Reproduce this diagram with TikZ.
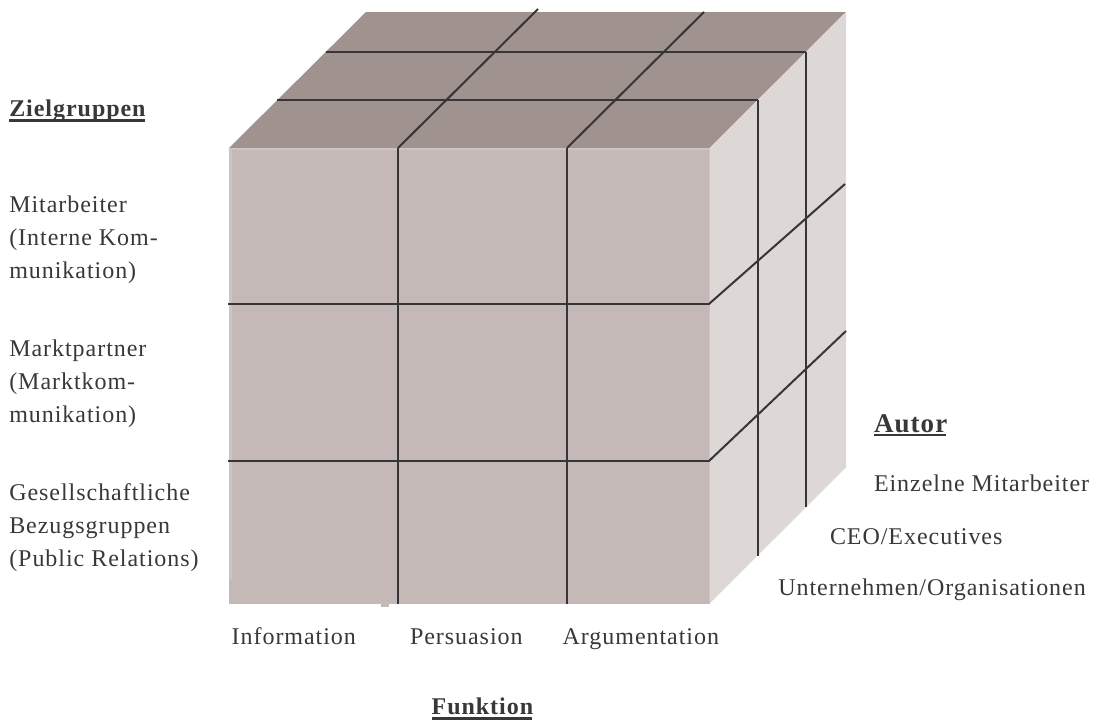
\documentclass[tikz,border=0pt]{standalone}
\usepackage{fontspec}
\setmainfont{Liberation Serif}[LetterSpace=4]
\definecolor{topc}{HTML}{A0928E}
\definecolor{frontc}{HTML}{C4B9B6}
\definecolor{frontedge}{HTML}{CCC4C1}
\definecolor{sidec}{HTML}{DDD8D5}
\definecolor{gridc}{HTML}{363538}
\definecolor{txt}{HTML}{38373A}
\begin{document}
\begin{tikzpicture}[x=1pt,y=-1pt,
  lbl/.style={anchor=base west, inner sep=0pt, outer sep=0pt, text=txt,
    font=\fontsize{24}{30}\selectfont},
  head/.style={lbl, font=\fontsize{24}{30}\selectfont\bfseries},
  bighead/.style={lbl, font=\fontsize{27}{32}\selectfont\bfseries},
  ul/.style={draw=txt, line width=2.7pt},
  gridline/.style={draw=gridc, line width=2pt},
]
\useasboundingbox (0,0) rectangle (1104,720);

% cube corners
\coordinate (FTL) at (229,148);
\coordinate (FTR) at (709.5,148);
\coordinate (FBL) at (229,603.5);
\coordinate (FBR) at (709.5,603.5);
\coordinate (BTL) at (366,12);
\coordinate (BTR) at (846,12);
\coordinate (BBR) at (846,467.5);

% faces
\fill[topc] (FTL) -- (BTL) -- (BTR) -- (FTR) -- cycle;
\fill[frontc] (FTL) rectangle (FBR);
\fill[frontedge] (229,148) rectangle (231.5,580);
\fill[frontedge] (229,149.5) rectangle (709.5,148);
\fill[frontc] (381,603) rectangle (389,606.5);
\fill[sidec] (FTR) -- (BTR) -- (BBR) -- (FBR) -- cycle;

% front grid
\draw[gridline] (228,303.5) -- (709.5,303.5);
\draw[gridline] (228,460.5) -- (709.5,460.5);
\draw[gridline] (398,148) -- (398,603.5);
\draw[gridline] (567,148) -- (567,603.5);

% top grid
\draw[gridline] (277.3,100) -- (757.8,100);
\draw[gridline] (325.6,51.7) -- (806.1,51.7);
\draw[gridline] (398,148) -- (538,9);
\draw[gridline] (567,148) -- (704,12);

% side grid
\draw[gridline] (757.8,100) -- (757.8,555.5);
\draw[gridline] (806.1,51.7) -- (806.1,507.2);
\draw[gridline] (709.5,303.5) -- (845,184);
\draw[gridline] (709.5,460.5) -- (846,331);

% Zielgruppen
\node[head] (zg) at (9.3,116.7) {Zielgruppen};
\draw[ul] ([yshift=-4pt]zg.base west) -- ([yshift=-4pt,xshift=-1pt]zg.base east);
\node[lbl] (ma1) at (9.3,212) {Mitarbeiter};
\node[lbl] (ma2) at (9.3,245) {(Interne Kom-};
\node[lbl] (ma3) at (9.3,278) {munikation)};
\node[lbl] (mp1) at (9.3,356.5) {Marktpartner};
\node[lbl] (mp2) at (9.3,389.5) {(Marktkom-};
\node[lbl] (mp3) at (9.3,422.5) {munikation)};
\node[lbl] (gb1) at (9.3,500) {Gesellschaftliche};
\node[lbl] (gb2) at (9.3,533) {Bezugsgruppen};
\node[lbl] (gb3) at (9.3,566) {(Public Relations)};

% Autor
\node[bighead] (au) at (874,432) {Autor};
\draw[ul] ([yshift=-3pt]au.base west) -- ([yshift=-3pt,xshift=-1pt]au.base east);
\node[lbl] (au1) at (874,491) {Einzelne Mitarbeiter};
\node[lbl] (au2) at (830,544.3) {CEO/Executives};
\node[lbl] (au3) at (778.3,595) {Unternehmen/Organisationen};

% Funktion
\node[lbl] (fk1) at (231.7,644) {Information};
\node[lbl] (fk2) at (410,644) {Persuasion};
\node[lbl] (fk3) at (562.7,644) {Argumentation};
\node[head] (fk) at (431.7,714.3) {Funktion};
\draw[ul] ([yshift=-4.2pt]fk.base west) -- ([yshift=-4.2pt,xshift=-1pt]fk.base east);
\end{tikzpicture}
\end{document}
